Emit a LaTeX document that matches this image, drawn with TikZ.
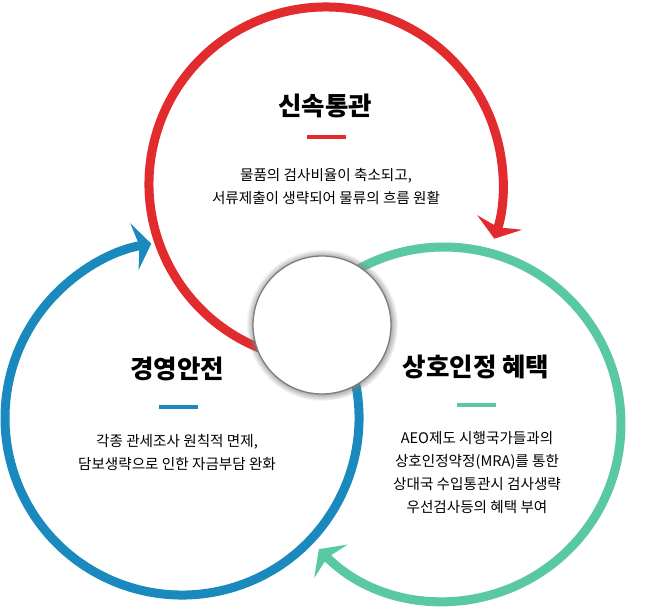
\documentclass[tikz,border=0pt]{standalone}
\usepackage{fontspec}
\newfontfamily\krfont{Noto Sans CJK KR}
\usetikzlibrary{arrows.meta,shadows}
\definecolor{CycRed}{RGB}{225,43,45}
\definecolor{CycGreen}{RGB}{91,200,164}
\definecolor{CycBlue}{RGB}{25,137,190}
\definecolor{HubGray}{RGB}{125,125,125}

\begin{document}
\begin{tikzpicture}[
  x=1pt, y=-1pt,
  ring/.style={line width=9pt, -{Stealth[length=17pt, width=47pt, inset=5pt]}},
  hub/.style={circle, draw=HubGray, line width=1.3pt, fill=white, minimum size=138pt,
    circular drop shadow={shadow xshift=0pt, shadow yshift=0pt, shadow scale=1.1}},
  title/.style={font=\krfont\bfseries\fontsize{25.5}{30}\selectfont, inner sep=0pt},
  bar/.style={fill=#1, minimum width=39pt, minimum height=4.5pt, inner sep=0pt},
  desc/.style={font=\krfont\fontsize{14.6}{23}\selectfont, align=center, inner sep=0pt}
]
  \useasboundingbox (0,0) rectangle (659,607);
  % centres of the three rings
  \coordinate (rc) at (326,184);
  \coordinate (gc) at (444,424);
  \coordinate (bc) at (182,418);

  \draw[ring, CycRed] (rc) ++(105:177) arc[start angle=105, end angle=378, radius=177];
  \draw[ring, CycGreen] (gc) ++(230:177) arc[start angle=230, end angle=495, radius=177];
  \draw[ring, CycBlue] (bc) ++(-20:177) arc[start angle=-20, end angle=260, radius=177];

  \node[hub] (hub) at (322,325) {};

  % red ring
  \node[title] (t1) at (325,106) {신속통관};
  \node[bar=CycRed] (b1) at (326,137) {};
  \node[desc] (d1) at (326,187) {물품의 검사비율이 축소되고,\\서류제출이 생략되어 물류의 흐름 원활};

  % green ring
  \node[title] (t2) at (476,367) {상호인정 혜택};
  \node[bar=CycGreen] (b2) at (476,405) {};
  \node[desc] (d2) at (477,473) {AEO제도 시행국가들과의\\상호인정약정(MRA)를 통한\\상대국 수입통관시 검사생략\\우선검사등의 혜택 부여};

  % blue ring
  \node[title] (t3) at (177,369) {경영안전};
  \node[bar=CycBlue] (b3) at (178,407) {};
  \node[desc] (d3) at (177,453) {각종 관세조사 원칙적 면제,\\담보생략으로 인한 자금부담 완화};
\end{tikzpicture}
\end{document}
